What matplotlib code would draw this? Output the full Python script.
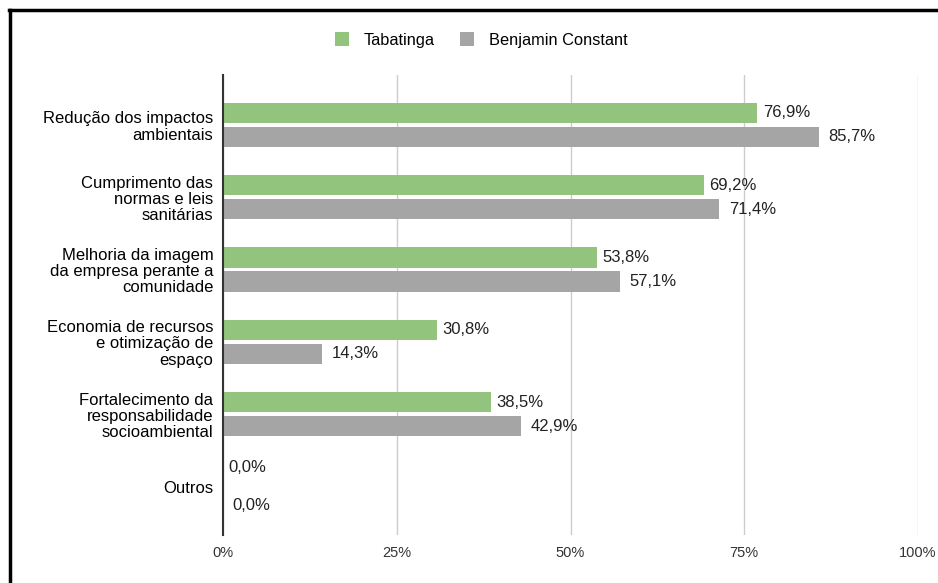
import matplotlib.pyplot as plt
import numpy as np
from matplotlib.lines import Line2D

plt.rcParams['font.family'] = ['Liberation Sans', 'DejaVu Sans']

# dados
categorias = [
    'Redução dos impactos\nambientais',
    'Cumprimento das\nnormas e leis\nsanitárias',
    'Melhoria da imagem\nda empresa perante a\ncomunidade',
    'Economia de recursos\ne otimização de\nespaço',
    'Fortalecimento da\nresponsabilidade\nsocioambiental',
    'Outros',
]
tabatinga = [76.9, 69.2, 53.8, 30.8, 38.5, 0.0]
benjamin = [85.7, 71.4, 57.1, 14.3, 42.9, 0.0]
ticks_x = [0, 25, 50, 75, 100]

verde = '#93c47d'
cinza = '#a5a5a5'

fig = plt.figure(figsize=(9.38, 5.83), dpi=100)
ax = fig.add_axes([223 / 938, 48 / 583, (918 - 223) / 938, (535 - 75) / 583])

y = np.arange(len(categorias))
h = 0.28
off = 0.165

ax.barh(y - off, tabatinga, height=h, color=verde, zorder=3, label='Tabatinga')
ax.barh(y + off, benjamin, height=h, color=cinza, zorder=3, label='Benjamin Constant')

# rótulos de valor (os de 0% ficam um pouco mais afastados, como no original)
for yi, v in zip(y, tabatinga):
    dy = 5 if v == 0 else 0
    ax.annotate(f'{v:.1f}%'.replace('.', ','), (v, yi - off), xytext=(4, dy),
                textcoords='offset points', va='center', ha='left', fontsize=12, color='#222222')
for yi, v in zip(y, benjamin):
    dy = -5 if v == 0 else 0
    ax.annotate(f'{v:.1f}%'.replace('.', ','), (v, yi + off), xytext=(7, dy),
                textcoords='offset points', va='center', ha='left', fontsize=12, color='#222222')

ax.set_xlim(0, 100)
ax.set_ylim(len(categorias) - 0.33, -0.69)
ax.set_yticks(y)
ax.set_yticklabels(categorias, fontsize=12, ha='right', linespacing=1.1)
ax.set_xticks(ticks_x)
ax.set_xticklabels([f'{t}%' for t in ticks_x], fontsize=10.5, color='#333333')
ax.tick_params(axis='both', length=0)
ax.tick_params(axis='y', pad=7)
ax.tick_params(axis='x', pad=8)

ax.grid(axis='x', color='#cccccc', linewidth=1, zorder=0)
for s in ['top', 'right', 'bottom']:
    ax.spines[s].set_visible(False)
ax.spines['left'].set_color('#333333')
ax.spines['left'].set_linewidth(1.5)
ax.spines['left'].set_zorder(4)

fig.legend(loc='upper center', bbox_to_anchor=(0.513, 0.97), ncol=2, frameon=False,
           fontsize=11.8, handlelength=0.9, handleheight=0.9, columnspacing=1.5,
           handletextpad=0.9)

# moldura (só topo e esquerda visíveis)
fig.add_artist(Line2D([9 / 938, 1], [1 - 9.5 / 583, 1 - 9.5 / 583], color='black', linewidth=2.5,
                      transform=fig.transFigure))
fig.add_artist(Line2D([9.5 / 938, 9.5 / 938], [0, 1 - 9.5 / 583], color='black', linewidth=2.5,
                      transform=fig.transFigure))

fig.savefig('out.png', dpi=100)
